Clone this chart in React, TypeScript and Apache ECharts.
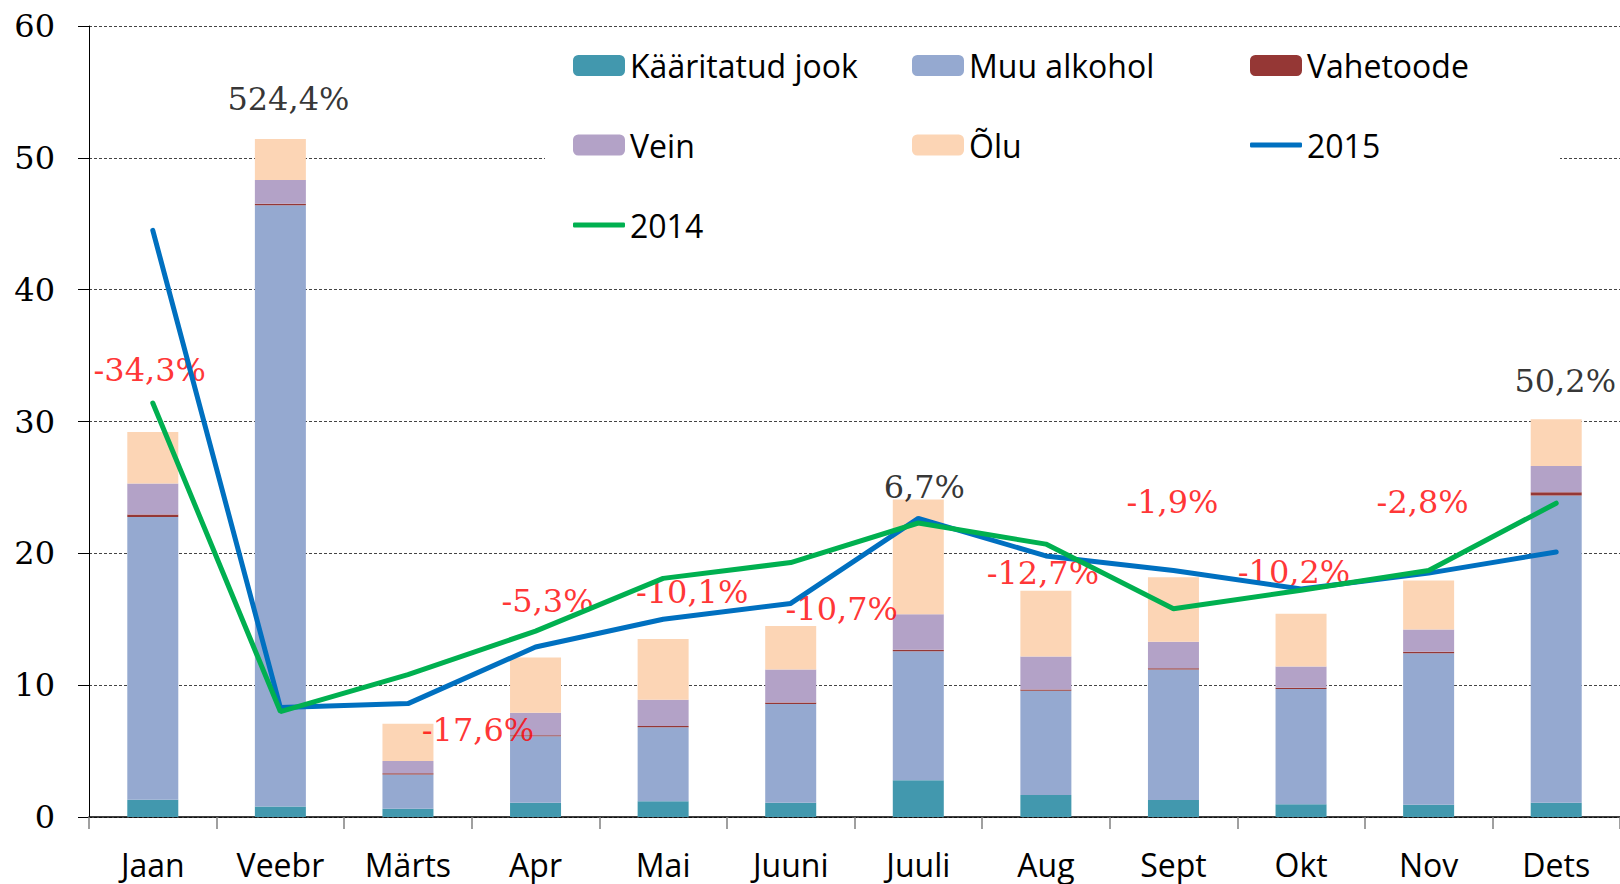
import React, { useEffect, useRef } from 'react';
import * as echarts from 'echarts';

// ---- Data ----
const months = ['Jaan', 'Veebr', 'Märts', 'Apr', 'Mai', 'Juuni', 'Juuli', 'Aug', 'Sept', 'Okt', 'Nov', 'Dets'];
const kaaritatudJook = [1.3, 0.8, 0.63, 1.08, 1.2, 1.08, 2.78, 1.67, 1.29, 0.96, 0.93, 1.08];
const muuAlkohol = [21.45, 45.6, 2.6, 5.04, 5.6, 7.5, 9.8, 7.9, 9.9, 8.75, 11.5, 23.3];
const vahetoode = [0.2, 0.12, 0.08, 0.08, 0.1, 0.1, 0.1, 0.1, 0.1, 0.1, 0.1, 0.25];
const vein = [2.35, 1.8, 0.94, 1.7, 2.0, 2.5, 2.7, 2.5, 2.0, 1.6, 1.7, 2.0];
const olu = [3.9, 3.1, 2.83, 4.2, 4.6, 3.3, 8.7, 5.0, 4.9, 4.0, 3.7, 3.55];
const line2015 = [44.5, 8.3, 8.6, 12.9, 15.0, 16.2, 22.65, 19.8, 18.7, 17.3, 18.5, 20.1];
const line2014 = [31.4, 8.0, 10.8, 14.1, 18.1, 19.3, 22.3, 20.7, 15.8, 17.2, 18.7, 23.8];
const changeLabels = ['-34,3%', '524,4%', '-17,6%', '-5,3%', '-10,1%', '-10,7%', '6,7%', '-12,7%', '-1,9%', '-10,2%', '-2,8%', '50,2%'];
const changeLevels = [33.9, 54.5, 6.6, 16.4, 17.1, 15.8, 25.0, 18.5, 23.9, 18.6, 23.9, 33.1];
const yMin = 0;
const yMax = 60;
const yStep = 10;

// ---- Layout / style (not data) ----
const labelOffsetX = [-3, 8, 70, 12, 29, 51, 6, -3, -1, -7, -6, 9];
const colors = {
  kaaritatud: '#4298AE',
  muu: '#95A9D0',
  vahetoode: '#953735',
  vein: '#B3A2C7',
  olu: '#FCD5B5',
  y2015: '#0070C0',
  y2014: '#00B050',
};
const legendCols = [568, 907, 1245];
const legendRowCenters = [65.5, 145, 225];

export default function App() {
  const ref = useRef<HTMLDivElement>(null);

  useEffect(() => {
    document.body.style.margin = '0';
    if (!ref.current) return;
    const chart = echarts.init(ref.current, undefined, { renderer: 'svg' });

    const legendText = { fontFamily: 'Open Sans', fontSize: 32, color: '#000' };
    const legendLayout: [string, number, number, string | null][] = [
      ['Kääritatud jook', 0, 0, null],
      ['Muu alkohol', 1, 0, null],
      ['Vahetoode', 2, 0, null],
      ['Vein', 0, 1, null],
      ['Õlu', 1, 1, null],
      ['2015', 2, 1, colors.y2015],
      ['2014', 0, 2, colors.y2014],
    ];
    const legends = legendLayout.map(([name, c, r, lineColor]) =>
      lineColor
        ? {
            data: [{ name, icon: 'roundRect' }],
            left: legendCols[c],
            top: legendRowCenters[r] - 16 - 5,
            itemWidth: 52,
            itemHeight: 5,
            itemStyle: { color: lineColor, borderWidth: 0 },
            textStyle: legendText,
            selectedMode: false,
          }
        : {
            data: [name],
            left: legendCols[c],
            top: legendRowCenters[r] - 16 - 5,
            itemWidth: 52,
            itemHeight: 21,
            textStyle: legendText,
            selectedMode: false,
          }
    );

    const barSeries = (name: string, data: number[], color: string) => ({
      name,
      type: 'bar',
      stack: 'total',
      barWidth: 51,
      data,
      itemStyle: { color },
      z: 2,
    });

    const lineSeries = (name: string, data: number[], color: string) => ({
      name,
      type: 'line',
      data,
      symbol: 'none',
      showSymbol: false,
      lineStyle: { color, width: 5, cap: 'round' },
      itemStyle: { color },
      z: 4,
    });

    const labelData = changeLabels.map((txt, i) => ({
      value: [i, changeLevels[i]],
      label: {
        show: true,
        position: 'inside',
        offset: [labelOffsetX[i], 0],
        formatter: txt,
        color: txt.startsWith('-') ? '#FF0000' : '#000000',
        fontFamily: 'DejaVu Serif',
        fontSize: 32,
      },
    }));

    chart.setOption({
      animation: false,
      backgroundColor: '#fff',
      grid: { left: 89, right: -4, top: 26, bottom: 67, containLabel: false },
      legend: legends,
      graphic: [
        {
          type: 'rect',
          shape: { x: 545, y: 32, width: 1015, height: 226 },
          style: { fill: '#ffffff' },
          z: 1,
          silent: true,
        },
      ],
      xAxis: {
        type: 'category',
        data: months,
        boundaryGap: true,
        axisLine: { lineStyle: { color: '#000', width: 1.5 } },
        axisTick: { show: true, length: 12, lineStyle: { color: '#808080', width: 1.5 } },
        axisLabel: { fontFamily: 'Open Sans', fontSize: 32, color: '#000', margin: 31 },
        splitLine: { show: false },
      },
      yAxis: {
        type: 'value',
        min: yMin,
        max: yMax,
        interval: yStep,
        axisLine: { show: true, lineStyle: { color: '#000', width: 1 } },
        axisTick: { show: true, length: 11, lineStyle: { color: '#000', width: 1 } },
        axisLabel: { fontFamily: 'DejaVu Serif', fontSize: 32, color: '#000', margin: 34 },
        splitLine: { show: true, lineStyle: { color: '#444', width: 1, type: [3, 2] } },
      },
      series: [
        barSeries('Kääritatud jook', kaaritatudJook, colors.kaaritatud),
        barSeries('Muu alkohol', muuAlkohol, colors.muu),
        barSeries('Vahetoode', vahetoode, colors.vahetoode),
        barSeries('Vein', vein, colors.vein),
        barSeries('Õlu', olu, colors.olu),
        lineSeries('2015', line2015, colors.y2015),
        lineSeries('2014', line2014, colors.y2014),
        {
          name: 'labels',
          type: 'scatter',
          data: labelData,
          symbolSize: 1,
          itemStyle: { color: 'rgba(0,0,0,0)' },
          silent: true,
          z: 3,
        },
      ],
    });

    return () => chart.dispose();
  }, []);

  return <div ref={ref} style={{ width: 1620, height: 884 }} />;
}
